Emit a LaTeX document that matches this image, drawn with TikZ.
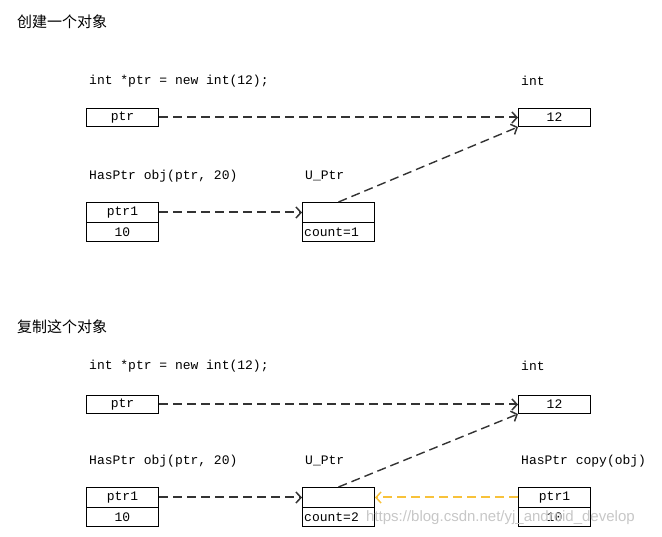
\documentclass[tikz,border=0pt]{standalone}
\usepackage{fontspec}
\setmonofont{Liberation Mono}
\newfontfamily\cjk{Noto Sans CJK SC}
\newfontfamily\wmfont{Liberation Sans}
\usetikzlibrary{arrows.meta}
\definecolor{arrowgray}{HTML}{333333}
\definecolor{copyyellow}{HTML}{F8C23A}
\tikzset{
 cell/.style={draw=black, line width=1pt, minimum width=72pt, minimum height=19pt, inner sep=0pt, anchor=north west, font=\ttfamily\fontsize{13}{13}\selectfont},
 lbl/.style={anchor=west, inner sep=0pt, font=\ttfamily\fontsize{13}{13}\selectfont},
 ttl/.style={anchor=west, inner sep=0pt, font=\cjk\fontsize{15}{15}\selectfont},
 ptrarrow/.style={draw=arrowgray, line width=2pt, dash pattern=on 9pt off 5pt, -{Straight Barb[length=5pt,width=11pt,line width=1.5pt]}},
 diagarrow/.style={ptrarrow, line width=1.4pt},
 wm/.style={anchor=west, inner sep=0pt, text=black!22, font=\wmfont\fontsize{15}{15}\selectfont},
}
\begin{document}
\begin{tikzpicture}[x=1pt,y=-1pt]
\useasboundingbox (0,0) rectangle (662,537);
% ===== section 1
\node[ttl] (t1) at (17,22) {创建一个对象};
\node[lbl] (c1) at (89,81) {int *ptr = new int(12);};
\node[lbl] (i1) at (521,81) {int};
\node[cell, minimum height=18pt] (ptrA) at (86,108) {ptr};
\node[cell, minimum height=18pt] (vA) at (518,108) {12};
\node[lbl] (h1) at (89,176) {HasPtr obj(ptr, 20)};
\node[lbl] (u1) at (305,176) {U\_Ptr};
\node[cell, minimum height=20pt] (oA1) at (86,202) {ptr1};
\node[cell] (oA2) at (86,222) {10};
\node[cell, minimum height=20pt] (uA1) at (302,202) {};
\node[cell] (uA2) at (302,222) {};
\node[lbl] (cA) at (304,232) {count=1};
\draw[ptrarrow] (ptrA.east) -- (vA.west);
\draw[ptrarrow] (oA1.east) -- (uA1.west);
\draw[diagarrow] (uA1.north) -- (vA.south west);
% ===== section 2
\node[ttl] (t2) at (17,327) {复制这个对象};
\node[lbl] (c2) at (89,366) {int *ptr = new int(12);};
\node[lbl] (i2) at (521,366) {int};
\node[cell, minimum height=18pt] (ptrB) at (86,395) {ptr};
\node[cell, minimum height=18pt] (vB) at (518,395) {12};
\node[lbl] (h2) at (89,461) {HasPtr obj(ptr, 20)};
\node[lbl] (u2) at (305,461) {U\_Ptr};
\node[lbl] (h3) at (521,461) {HasPtr copy(obj)};
\node[cell, minimum height=20pt] (oB1) at (86,487) {ptr1};
\node[cell] (oB2) at (86,507) {10};
\node[cell, minimum height=20pt] (uB1) at (302,487) {};
\node[cell] (uB2) at (302,507) {};
\node[lbl] (cB) at (304,517) {count=2};
\node[cell, minimum height=20pt] (pB1) at (518,487) {ptr1};
\node[cell] (pB2) at (518,507) {10};
\draw[ptrarrow] (ptrB.east) -- (vB.west);
\draw[ptrarrow] (oB1.east) -- (uB1.west);
\draw[diagarrow] (uB1.north) -- (vB.south west);
\draw[ptrarrow, draw=copyyellow, color=copyyellow] (pB1.west) -- (uB1.east);
\node[wm] (wmark) at (366,518) {https://blog.csdn.net/yj\_android\_develop};
\end{tikzpicture}
\end{document}
